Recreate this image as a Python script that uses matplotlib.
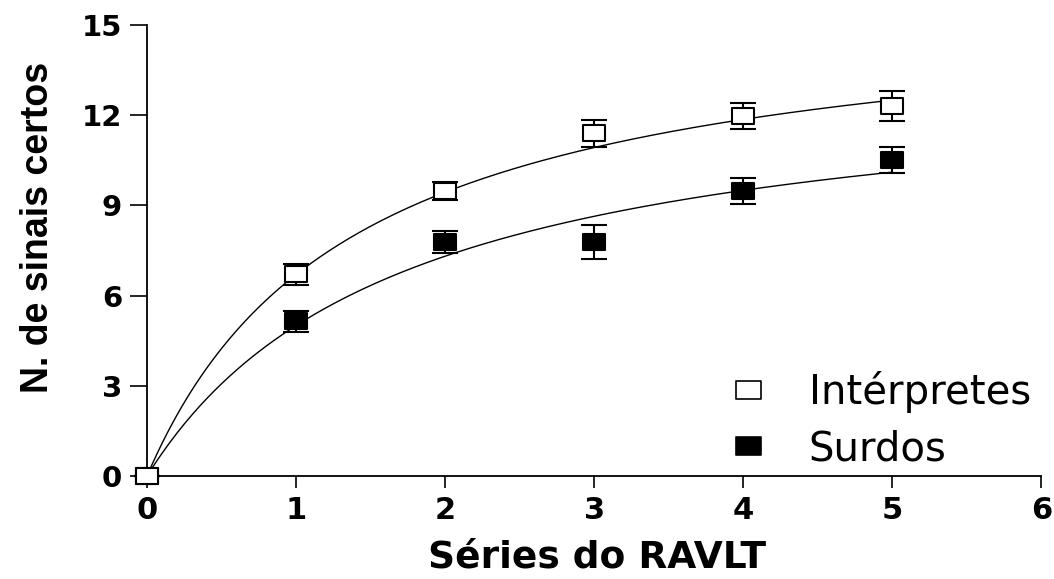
import numpy as np
import matplotlib
matplotlib.use("Agg")
import matplotlib.pyplot as plt
from matplotlib.path import Path

# Data
series_x = [0, 1, 2, 3, 4, 5]
interpretes_y = [0.0, 6.7, 9.48, 11.39, 11.98, 12.3]
interpretes_err = [0.0, 0.35, 0.3, 0.45, 0.43, 0.5]
surdos_y = [0.0, 5.14, 7.78, 7.78, 9.48, 10.52]
surdos_err = [0.0, 0.36, 0.35, 0.55, 0.42, 0.43]

# Hyperbolic fit parameters (Y = Bmax*X/(K+X))
interpretes_bmax, interpretes_k = 15.95, 1.381
surdos_bmax, surdos_k = 13.56, 1.711

x_ticks = [0, 1, 2, 3, 4, 5, 6]
y_ticks = [0, 3, 6, 9, 12, 15]

# wide rectangular square marker (the original is horizontally stretched)
rw, rh = 1.0, 0.74
rect = Path([(-rw, -rh), (rw, -rh), (rw, rh), (-rw, rh), (-rw, -rh)],
            [Path.MOVETO, Path.LINETO, Path.LINETO, Path.LINETO, Path.CLOSEPOLY])

fig = plt.figure(figsize=(10.54, 5.79), dpi=100)
ax = fig.add_axes([0.1395, 0.178, 0.8485, 0.779])

xf = np.linspace(0, max(series_x), 300)
ax.plot(xf, interpretes_bmax * xf / (interpretes_k + xf), color="black", lw=1.0, zorder=2)
ax.plot(xf, surdos_bmax * xf / (surdos_k + xf), color="black", lw=1.0, zorder=2)

ax.errorbar(series_x, surdos_y, yerr=surdos_err, fmt="none", ecolor="black",
            elinewidth=1.5, capsize=9.5, capthick=1.5, zorder=3, clip_on=False)
ax.plot(series_x, surdos_y, ls="none", marker=rect, ms=16.5, mfc="black", mec="black",
        mew=1.5, zorder=3.5, clip_on=False)
ax.errorbar(series_x, interpretes_y, yerr=interpretes_err, fmt="none", ecolor="black",
            elinewidth=1.5, capsize=9.5, capthick=1.5, zorder=4, clip_on=False)
ax.plot(series_x, interpretes_y, ls="none", marker=rect, ms=16.5, mfc="white", mec="black",
        mew=1.5, zorder=4.5, clip_on=False)

ax.set_xlim(0, 6)
ax.set_ylim(0, 15)
ax.set_xticks(x_ticks)
ax.set_yticks(y_ticks)
for s in ["top", "right"]:
    ax.spines[s].set_visible(False)
for s in ["left", "bottom"]:
    ax.spines[s].set_linewidth(1.3)
ax.tick_params(axis="x", direction="out", length=8.6, width=1.2, pad=6)
ax.tick_params(axis="y", direction="out", length=12, width=1.2, pad=6)
for lab in ax.get_xticklabels():
    lab.set_fontfamily("DejaVu Sans")
    lab.set_fontweight("bold")
    lab.set_fontsize(22)
for lab in ax.get_yticklabels():
    lab.set_fontfamily("DejaVu Sans")
    lab.set_fontweight("bold")
    lab.set_fontsize(21)

ax.set_xlabel("Séries do RAVLT", fontsize=27, fontweight="bold", family="DejaVu Sans")
ax.xaxis.label.set_va("baseline")
ax.xaxis.set_label_coords(0.503, (476 - 568) / 451)
ax.set_ylabel("N. de sinais certos", fontsize=27, fontweight="bold", family="Liberation Sans")
ax.yaxis.set_label_coords(-0.1023, 0.552)

# Legend
ax.plot([], [], ls="none", marker=rect, ms=18, mfc="white", mec="black", mew=1.2, label="Intérpretes")
ax.plot([], [], ls="none", marker=rect, ms=18, mfc="black", mec="black", mew=1.2, label="Surdos")
handles, labels = ax.get_legend_handles_labels()
leg = fig.legend(handles[-2:], labels[-2:], loc="upper left",
                 bbox_to_anchor=(728 / 1054, 1 - 371 / 579),
                 frameon=False, prop={"family": "DejaVu Sans", "size": 29},
                 handletextpad=1.0, labelspacing=0.4, handlelength=1.0,
                 borderpad=0, borderaxespad=0)

fig.savefig("out.png", dpi=100)
